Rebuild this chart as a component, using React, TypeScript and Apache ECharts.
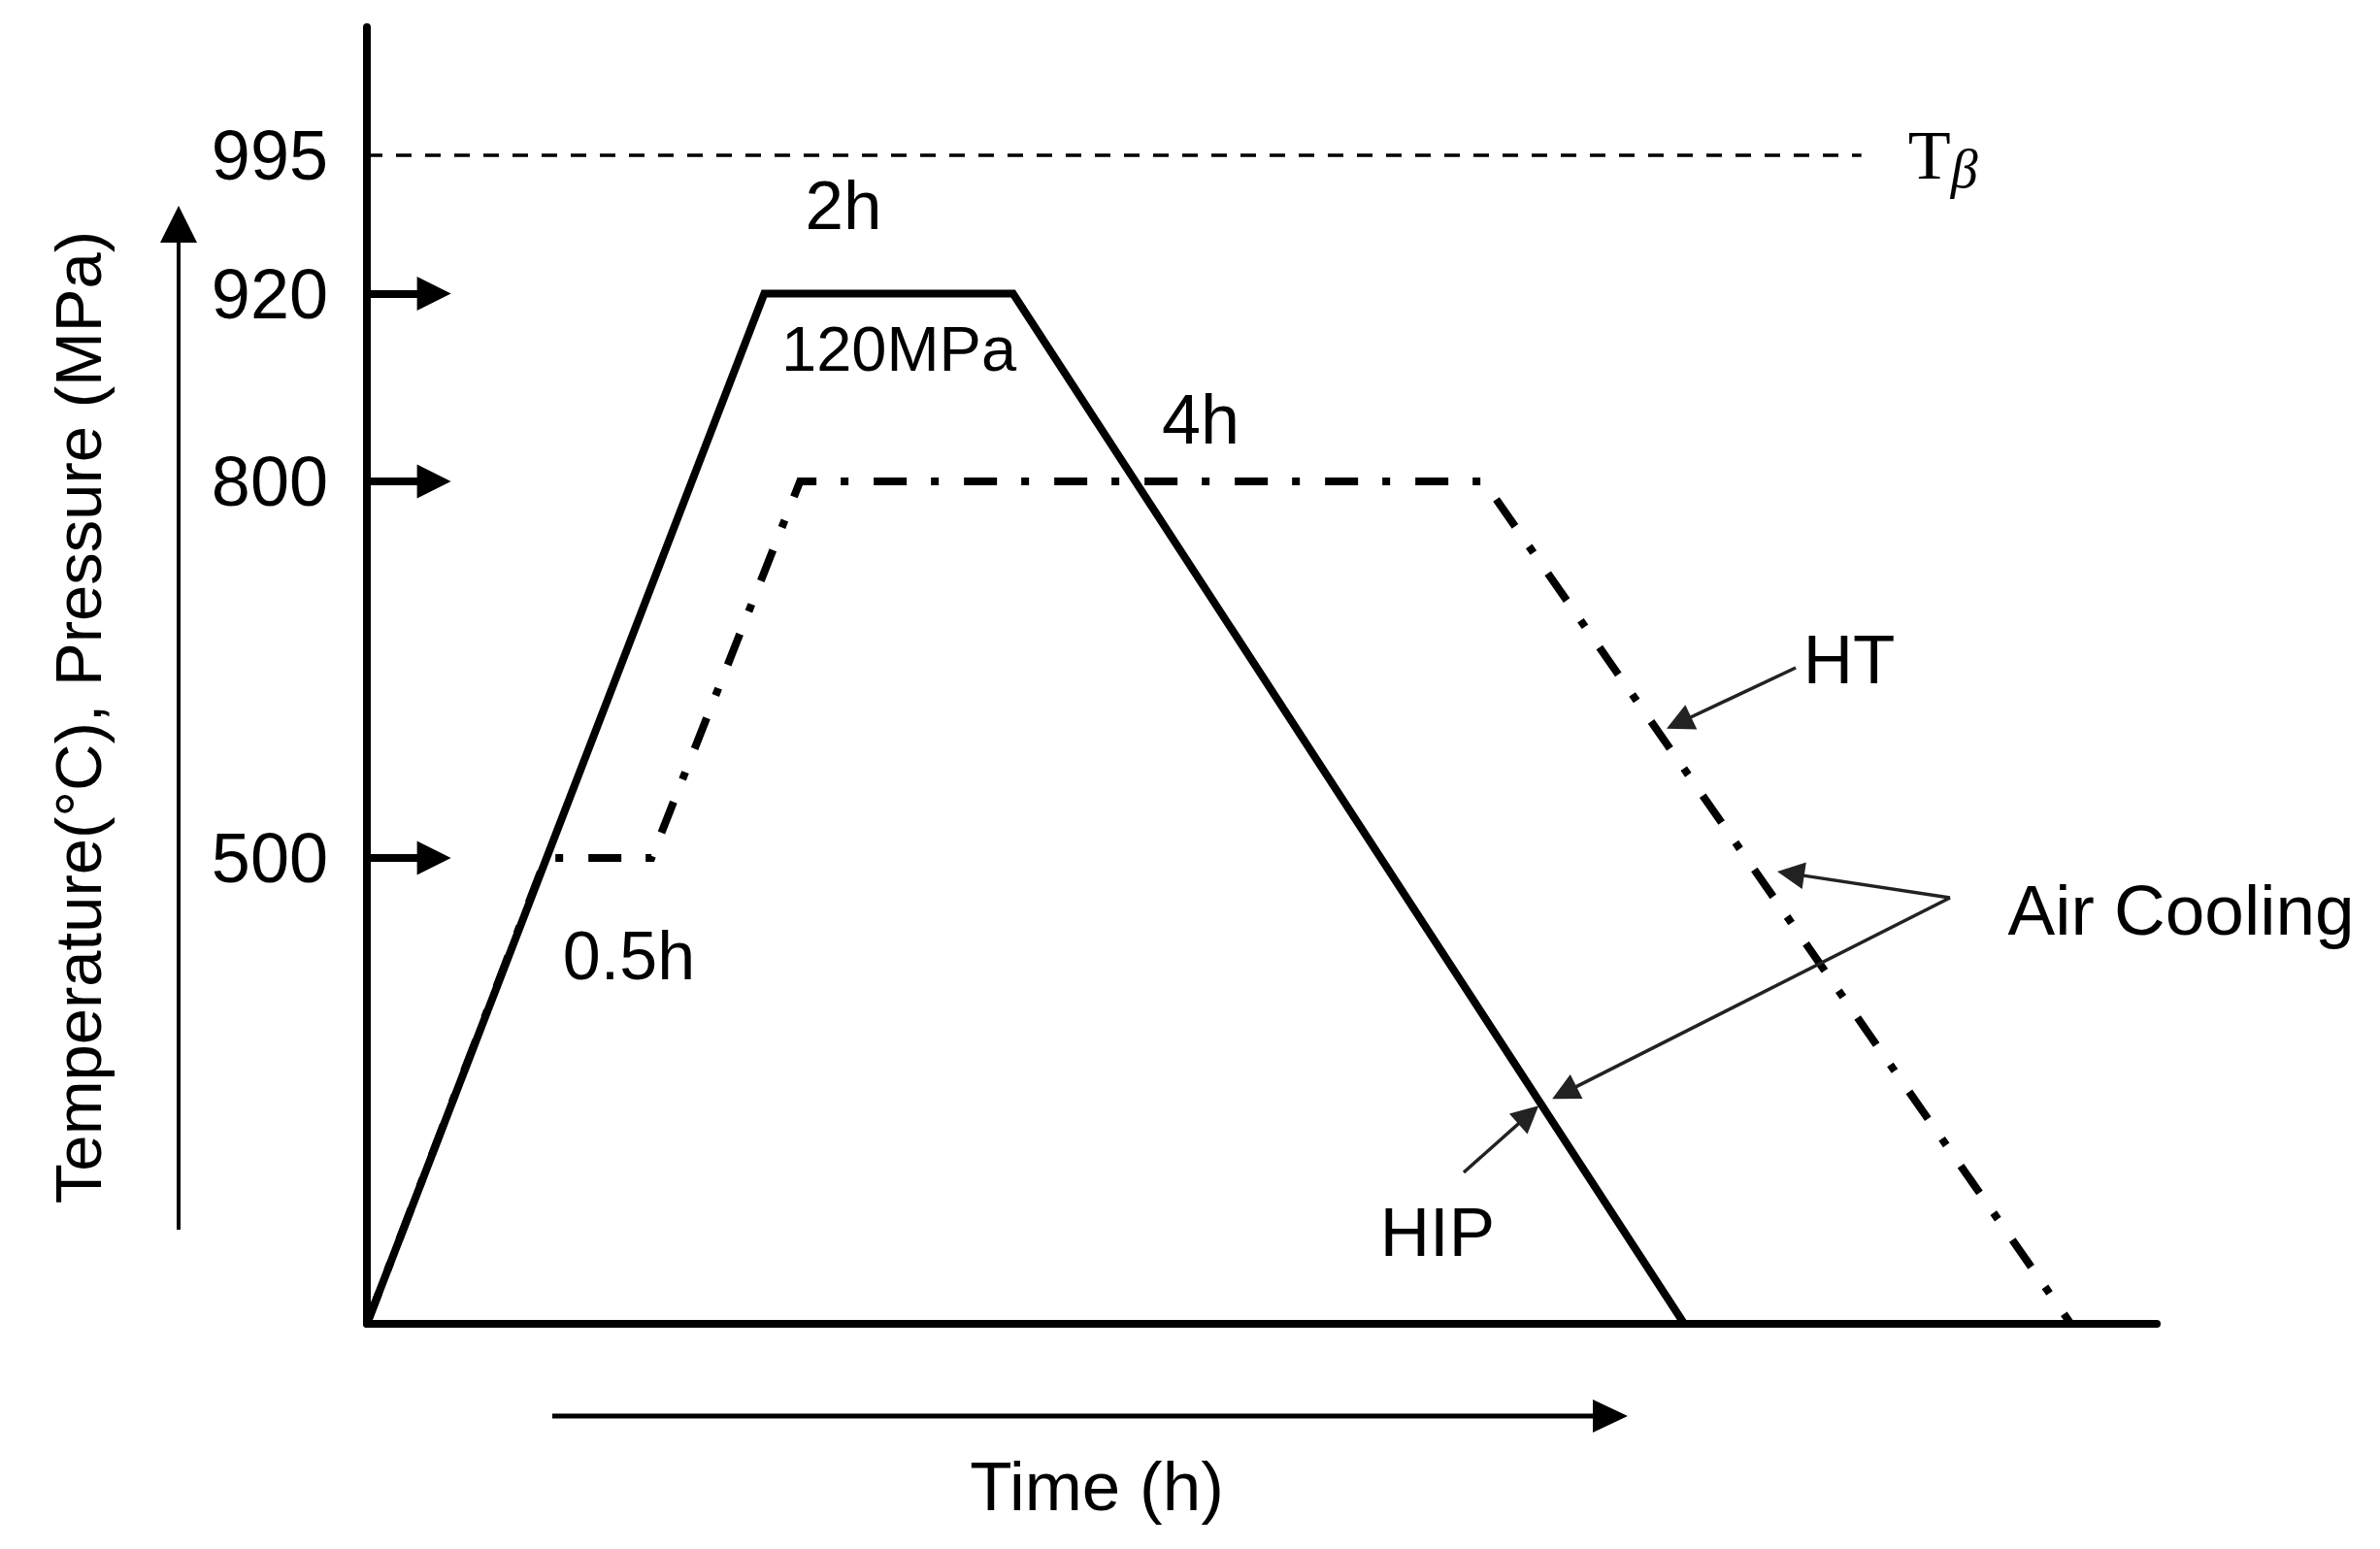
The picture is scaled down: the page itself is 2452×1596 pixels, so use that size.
import React, { useEffect, useRef } from "react";
import * as echarts from "echarts";

// ---- Schematic (non-linear) temperature axis: labelled levels and their place on the drawing axis (0-100)
const levelTemps = [0, 500, 800, 920, 995];
const levelAxisPos = [0, 35.93, 64.97, 79.45, 90.12];

// tick labels on the y axis, and the levels marked by arrows
const tickTemps = [995, 920, 800, 500];
const arrowTemps = [920, 800, 500];

// ---- Process curves (schematic time in h, temperature in °C)
const hipTime = [0, 2.22, 3.61, 7.36];
const hipTemp = [0, 920, 920, 0];

const htTime = [0, 1.0, 1.59, 2.42, 6.24, 9.52];
const htTemp = [0, 500, 500, 800, 800, 0];

// beta transus line
const betaTransusTemp = 995;
const betaTransusEndTime = 8.35;

// ---- Annotation texts
const annotationTexts = ["2h", "120MPa", "4h", "0.5h", "HT", "Air Cooling", "HIP"];

// ---- Layout (positions in axis units) for annotations and their pointer arrows
const annotationLayout: { at: [number, number]; size: number }[] = [
  { at: [2.663, 86.3], size: 71 },
  { at: [2.972, 75.15], size: 65 },
  { at: [4.658, 69.76], size: 72 },
  { at: [1.464, 28.37], size: 70 },
  { at: [8.281, 51.27], size: 71 },
  { at: [10.136, 31.96], size: 73 },
  { at: [5.981, 7.11], size: 71 },
];
const pointerArrows: [number, number][][] = [
  [[7.983, 50.6], [7.33, 46.35]], // HT
  [[8.845, 32.86], [7.955, 34.72]], // Air cooling -> HT
  [[8.845, 32.86], [6.69, 17.82]], // Air cooling -> HIP
  [[6.128, 11.68], [6.49, 16.12]], // HIP
];
const levelArrowLength = 0.375;

const FONT = "'Liberation Sans', Arial, Helvetica, sans-serif";
const SERIF = "'Liberation Serif', 'Times New Roman', serif";

function yOf(temp: number): number {
  for (let i = 1; i < levelTemps.length; i++) {
    if (temp <= levelTemps[i]) {
      const t0 = levelTemps[i - 1];
      const t1 = levelTemps[i];
      const p0 = levelAxisPos[i - 1];
      const p1 = levelAxisPos[i];
      return p0 + ((temp - t0) / (t1 - t0)) * (p1 - p0);
    }
  }
  return levelAxisPos[levelAxisPos.length - 1];
}

export default function App() {
  const ref = useRef<HTMLDivElement>(null);

  useEffect(() => {
    if (!ref.current) return;
    const chart = echarts.init(ref.current, undefined, { renderer: "svg" });

    const option: any = {
      animation: false,
      backgroundColor: "#ffffff",
      grid: { left: 378, right: 230, top: 28, bottom: 232, containLabel: false, outerBoundsMode: "none" },
      xAxis: {
        type: "value",
        min: 0,
        max: 10,
        axisLine: { show: true, onZero: false, lineStyle: { color: "#000", width: 8 } },
        axisTick: { show: false },
        axisLabel: { show: false },
        splitLine: { show: false },
        name: "Time (h)",
        nameLocation: "middle",
        nameGap: 132,
        nameTextStyle: { fontSize: 71, fontFamily: FONT, color: "#000", padding: [0, 340, 0, 0] },
      },
      yAxis: {
        type: "value",
        min: 0,
        max: 100,
        axisLine: { show: true, onZero: false, lineStyle: { color: "#000", width: 8 } },
        axisTick: { show: false },
        splitLine: { show: false },
        axisLabel: {
          customValues: tickTemps.map(yOf),
          formatter: (v: number) => {
            const i = tickTemps.findIndex((t) => Math.abs(yOf(t) - v) < 1e-6);
            return i >= 0 ? String(tickTemps[i]) : "";
          },
          margin: 40,
          fontSize: 72,
          color: "#000",
          fontFamily: FONT,
        },
        name: "Temperature(°C), Pressure (MPa)",
        nameLocation: "middle",
        nameRotate: 90,
        nameGap: 264,
        nameTextStyle: { fontSize: 67, fontFamily: FONT, color: "#000", padding: [0, 86, 0, 0] },
      },
      graphic: [
        { type: "line", shape: { x1: 184, y1: 1267, x2: 184, y2: 240 }, style: { stroke: "#000", lineWidth: 4 } },
        { type: "polygon", shape: { points: [[184, 212], [165, 250], [203, 250]] }, style: { fill: "#000" } },
        { type: "line", shape: { x1: 569, y1: 1459, x2: 1645, y2: 1459 }, style: { stroke: "#000", lineWidth: 5 } },
        { type: "polygon", shape: { points: [[1677, 1459], [1641, 1442], [1641, 1476]] }, style: { fill: "#000" } },
      ],
      series: [
        {
          name: "Tβ",
          type: "line",
          data: [
            [0, yOf(betaTransusTemp)],
            [betaTransusEndTime, yOf(betaTransusTemp)],
          ],
          symbol: "none",
          clip: false,
          silent: true,
          lineStyle: { color: "#000", width: 3.5, type: [16, 14] },
          endLabel: {
            show: true,
            distance: 48,
            formatter: "{t|T}{b|β}",
            rich: {
              t: { fontFamily: SERIF, fontSize: 72, color: "#000", lineHeight: 72 },
              b: {
                fontFamily: SERIF,
                fontStyle: "italic",
                fontSize: 56,
                color: "#000",
                lineHeight: 56,
                padding: [28, 0, 0, 0],
              },
            },
          },
          z: 1,
        },
        {
          name: "HT",
          type: "line",
          data: htTime.map((t, i) => [t, yOf(htTemp[i])]),
          symbol: "none",
          clip: false,
          silent: true,
          lineStyle: { color: "#000", width: 8, type: [34, 25, 8, 26], join: "miter", cap: "butt" },
          z: 2,
        },
        {
          name: "HIP",
          type: "line",
          data: hipTime.map((t, i) => [t, yOf(hipTemp[i])]),
          symbol: "none",
          clip: false,
          silent: true,
          lineStyle: { color: "#000", width: 8, join: "miter" },
          z: 3,
        },
        {
          name: "levels",
          type: "lines",
          coordinateSystem: "cartesian2d",
          silent: true,
          clip: false,
          symbol: ["none", "triangle"],
          symbolSize: 35,
          itemStyle: { color: "#000" },
          lineStyle: { color: "#000", width: 8, opacity: 1, curveness: 0 },
          data: arrowTemps.map((t) => ({ coords: [[0, yOf(t)], [levelArrowLength, yOf(t)]] })),
          z: 4,
        },
        {
          name: "pointers",
          type: "lines",
          coordinateSystem: "cartesian2d",
          silent: true,
          clip: false,
          symbol: ["none", "triangle"],
          symbolSize: 28,
          itemStyle: { color: "#000" },
          lineStyle: { color: "#222", width: 3.5, opacity: 1, curveness: 0 },
          data: pointerArrows.map((c) => ({ coords: c })),
          z: 4,
        },
        {
          name: "annotations",
          type: "scatter",
          silent: true,
          clip: false,
          symbolSize: 1,
          itemStyle: { color: "rgba(255,255,255,0)", opacity: 1 },
          emphasis: { disabled: true },
          data: annotationTexts.map((txt, i) => ({
            name: txt,
            value: annotationLayout[i].at,
            label: { fontSize: annotationLayout[i].size, color: "#000" },
          })),
          label: {
            show: true,
            position: "inside",
            formatter: "{b}",
            color: "#000",
            opacity: 1,
            textBorderWidth: 0,
            fontFamily: FONT,
            fontSize: 71,
          },
          z: 5,
        },
      ],
    };

    chart.setOption(option);
    return () => chart.dispose();
  }, []);

  return (
    <div
      ref={ref}
      style={{ position: "fixed", left: 0, top: 0, width: 2452, height: 1596, background: "#fff" }}
    />
  );
}
